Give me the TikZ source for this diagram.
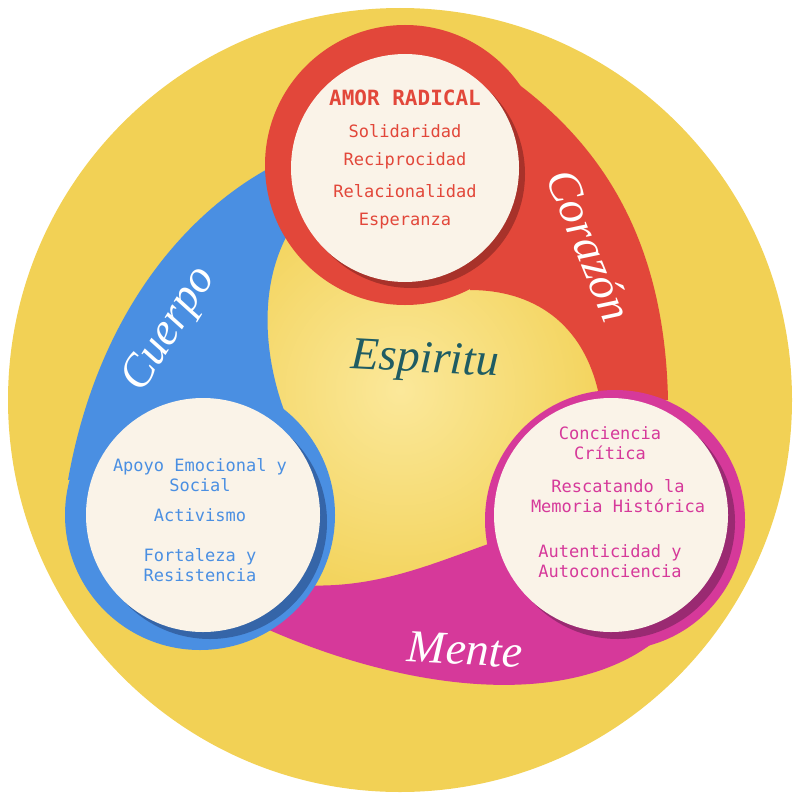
\documentclass[tikz,border=0pt]{standalone}
\usepackage{fontspec}
\setmonofont{DejaVu Sans Mono}
\setmainfont{Liberation Serif}
\begin{document}
\begin{tikzpicture}[x=1pt,y=-1pt,
  lab/.style={font=\ttfamily\fontsize{17}{20}\selectfont,align=center},
  scr/.style={font=\itshape\fontsize{46}{50}\selectfont,text=white,inner sep=0pt}]
\definecolor{yel}{HTML}{F2D155}
\definecolor{lyel}{HTML}{FBE89A}
\definecolor{red}{HTML}{E2473A}
\definecolor{dred}{HTML}{A8322A}
\definecolor{blu}{HTML}{4A8FE2}
\definecolor{dblu}{HTML}{3565A8}
\definecolor{mag}{HTML}{D6399A}
\definecolor{dmag}{HTML}{9A2A72}
\definecolor{cream}{HTML}{FAF3E8}
\definecolor{teal}{HTML}{1F5C63}
\useasboundingbox (0,0) rectangle (800,800);
\fill[yel] (400,400) circle (392);
\shade[inner color=lyel,outer color=yel] (400,390) circle (230);
% tails
\fill[red] (510,78) .. controls (610,150) and (665,250) .. (668,400) -- (600,400) .. controls (585,320) and (530,290) .. (470,290) -- cycle;
\fill[blu] (68,480) .. controls (100,300) and (200,200) .. (285,160) -- (290,230) .. controls (255,290) and (265,370) .. (292,430) -- cycle;
\fill[mag] (650,645) .. controls (560,710) and (400,690) .. (258,625) -- (300,585) .. controls (380,590) and (440,560) .. (500,540) -- cycle;
% circles
\fill[red] (405,165) circle (140);
\fill[blu] (200,515) circle (135);
\fill[mag] (615,520) circle (130);
\fill[dred] (411,174) circle (114);
\fill[cream] (405,168) circle (114);
\fill[dblu] (210,522) circle (117);
\fill[cream] (203,515) circle (117);
\fill[dmag] (618,522) circle (117);
\fill[cream] (611,515) circle (117);
% texts
\node[lab,text=red,font=\ttfamily\bfseries\fontsize{21}{24}\selectfont] (t0) at (405,98) {AMOR RADICAL};
\node[lab,text=red] (t1) at (405,131) {Solidaridad};
\node[lab,text=red] (t2) at (405,161) {Reciprocidad};
\node[lab,text=red] (t3) at (405,191) {Relacionalidad};
\node[lab,text=red] (t4) at (405,221) {Esperanza};
\node[lab,text=blu] (b1) at (200,475) {Apoyo Emocional y\\Social};
\node[lab,text=blu] (b2) at (200,515) {Activismo};
\node[lab,text=blu] (b3) at (200,565) {Fortaleza y\\Resistencia};
\node[lab,text=mag] (m1) at (610,443) {Conciencia\\Crítica};
\node[lab,text=mag] (m2) at (618,496) {Rescatando la\\Memoria Histórica};
\node[lab,text=mag] (m3) at (610,561) {Autenticidad y\\Autoconciencia};
\node[scr] (c1) at (590,245) [rotate=-68] {Corazón};
\node[scr] (c2) at (170,330) [rotate=58] {Cuerpo};
\node[scr] (c3) at (465,650) [rotate=-3] {Mente};
\node[scr,text=teal] (c4) at (425,362) [rotate=-3] {Espiritu};
\end{tikzpicture}
\end{document}
